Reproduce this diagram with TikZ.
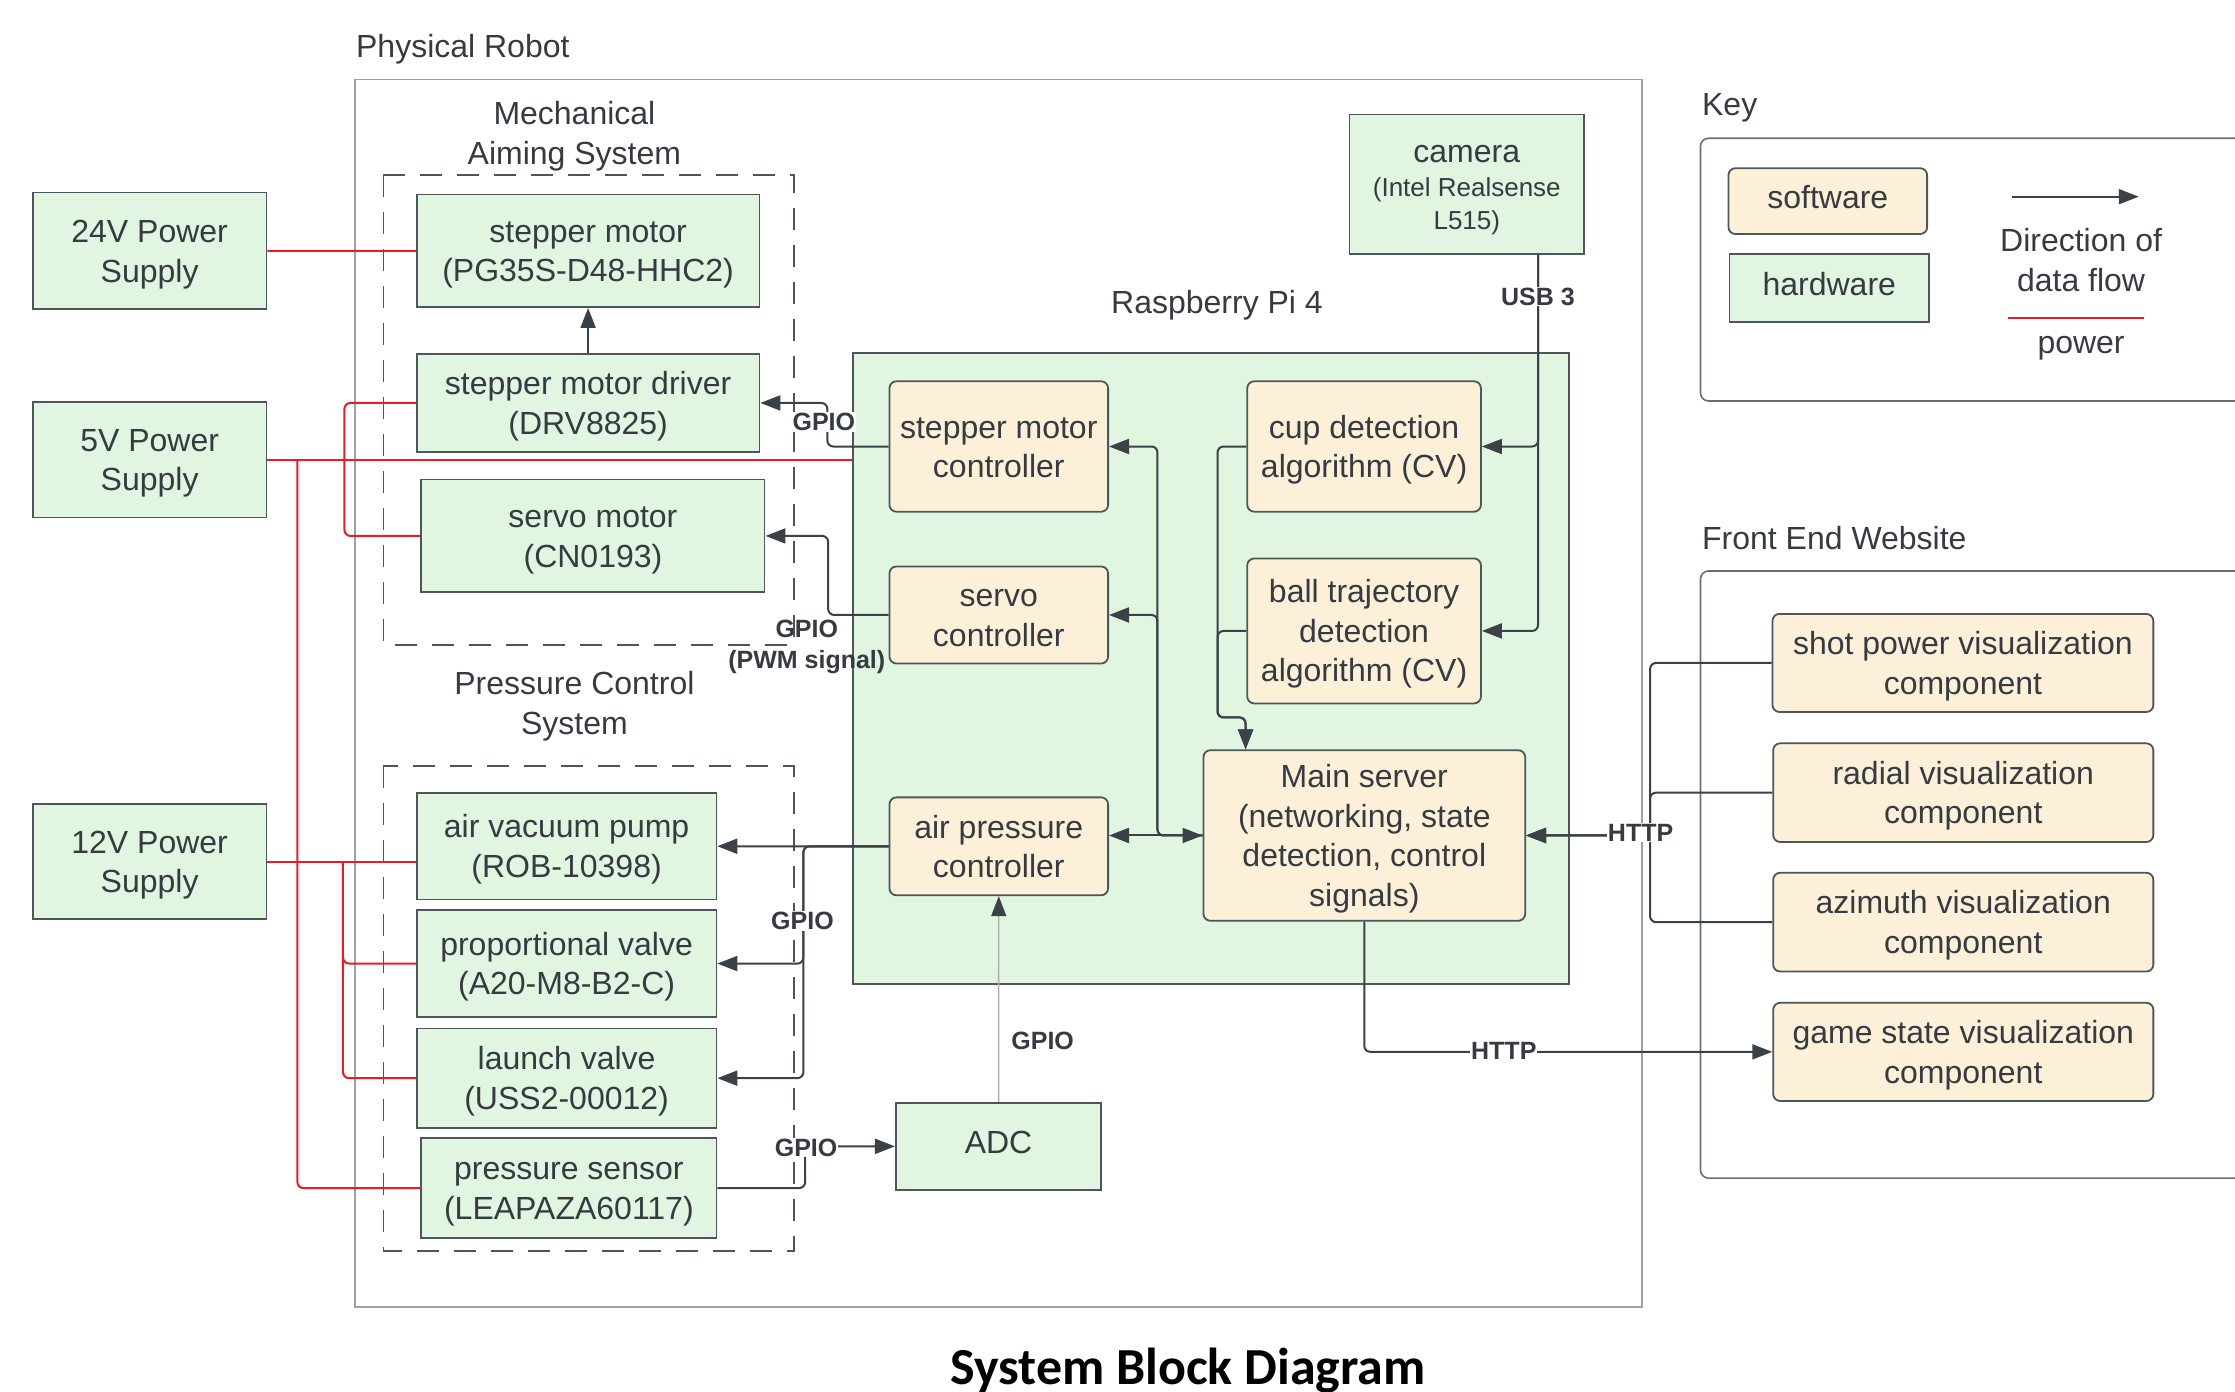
\documentclass[tikz,border=0pt]{standalone}
\usepackage{fontspec}
\setmainfont{Liberation Sans}
\newfontfamily\headingfont{Carlito}
\usetikzlibrary{calc,arrows.meta}
\definecolor{hwfill}{HTML}{E0F6E0}
\definecolor{swfill}{HTML}{FDF0D8}
\definecolor{edge}{HTML}{4E555B}
\definecolor{ink}{HTML}{353B41}
\definecolor{wire}{HTML}{3A4147}
\definecolor{pwrred}{HTML}{EC1C24}
\definecolor{frame}{HTML}{A0A0A0}
% line struts: uniform line boxes inside the blocks
\newcommand\bx{\rule[-8pt]{0pt}{38.9pt}}
\newcommand\bxs{\rule[-6.5pt]{0pt}{31.6pt}}
\newcommand\bxo{\rule[-16pt]{0pt}{46.9pt}}
\begin{document}
\begin{tikzpicture}[x=1.4254pt,y=-1.4254pt,
  every node/.style={text=ink,font=\fontsize{32}{39.5}\selectfont},
  sz/.style 2 args={minimum width=#1*1.4254pt,minimum height=#2*1.4254pt},
  hw/.style={draw=edge,fill=hwfill,line width=1.8pt,inner sep=0pt,align=center},
  sw/.style={hw,fill=swfill,rounded corners=7pt},
  grp/.style={draw=edge,line width=1.8pt,dash pattern=on 22pt off 15pt},
  panel/.style={draw=edge!85,line width=1.6pt,rounded corners=8pt},
  flow/.style={draw=wire,line width=2pt,rounded corners=6pt,-{Triangle[length=20pt,width=15pt]}},
  twoway/.style={flow,{Triangle[length=20pt,width=15pt]}-{Triangle[length=20pt,width=15pt]}},
  pwr/.style={draw=pwrred,line width=2pt,rounded corners=6pt},
  lbl/.style={font=\bfseries\fontsize{25}{31}\selectfont,fill=white,inner sep=1pt},
  heading/.style={inner sep=0pt}
]
\useasboundingbox (0,0) rectangle (1568,976);

% outer frames
\draw[draw=frame,line width=1.3pt] (249,56) rectangle (1152,917);
\draw[grp] (269,123) rectangle (557,452.5);
\draw[grp] (269,537.5) rectangle (557,877.6);
\draw[panel] (1193,97) rectangle (1620,281.3);
\draw[panel] (1193,400.6) rectangle (1620,826.5);

% headings
\node[heading,anchor=base west] (hrobot) at (249.7,40) {Physical Robot};
\node[heading,align=center] (hmech) at (403,95.5) {Mechanical\\Aiming System};
\node[heading,align=center] (hpress) at (403,495.5) {Pressure Control\\System};
\node[heading,anchor=base] (hpi) at (853.8,219.8) {Raspberry Pi 4};
\node[heading,anchor=base west] (hkey) at (1194,80.7) {Key};
\node[heading,anchor=base west] (hweb) at (1194,385.6) {Front End Website};
\node[heading,anchor=base,font=\headingfont\bfseries\fontsize{52}{60}\selectfont,text=black] (htitle) at (833.5,971) {System Block Diagram};

% Raspberry Pi board
\node[hw,sz={502.5}{442.8}] (pi) at (849.45,468.9) {};

% power supplies
\node[hw,sz={164}{82}] (p24) at (105,176) {\bx 24V Power\\\bx Supply};
\node[hw,sz={164}{81}] (p5) at (105,322.5) {\bx 5V Power\\\bx Supply};
\node[hw,sz={164}{81}] (p12) at (105,604.5) {\bx 12V Power\\\bx Supply};

% mechanical aiming system
\node[hw,sz={240.4}{78.9}] (stm) at (412.6,175.95) {\bx stepper motor\\\bx (PG35S-D48-HHC2)};
\node[hw,sz={240.4}{68.6}] (drv) at (412.6,282.7) {\bx stepper motor driver\\\bx (DRV8825)};
\node[hw,sz={240.8}{79.2}] (srv) at (416,376) {\bx servo motor\\\bx (CN0193)};

% pressure control system
\node[hw,sz={210.2}{74.6}] (pump) at (397.5,593.7) {\bx air vacuum pump\\\bx (ROB-10398)};
\node[hw,sz={210.2}{74.6}] (pv) at (397.5,676) {\bx proportional valve\\\bx (A20-M8-B2-C)};
\node[hw,sz={210.2}{69.6}] (lv) at (397.5,756.4) {\bx launch valve\\\bx (USS2-00012)};
\node[hw,sz={207}{70.2}] (ps) at (399.1,833.5) {\bx pressure sensor\\\bx (LEAPAZA60117)};

% camera and ADC
\node[hw,sz={164.5}{97.9}] (cam) at (1029.05,129.25) {\bx camera\\[-6pt]{\fontsize{26}{33}\selectfont\bxs (Intel Realsense}\\[-6pt]{\fontsize{26}{33}\selectfont\bxs L515)}};
\node[hw,sz={144.1}{61.3}] (adc) at (700.55,804.25) {\bxo ADC};

% software on the Pi
\node[sw,sz={153.4}{91.5}] (smc) at (700.7,313.25) {\bx stepper motor\\\bx controller};
\node[sw,sz={164}{91.5}] (cup) at (957,313.25) {\bx cup detection\\\bx algorithm (CV)};
\node[sw,sz={153.4}{68.1}] (svc) at (700.7,431.45) {\bx servo\\\bx controller};
\node[sw,sz={164}{101.7}] (ball) at (957,442.65) {\bx ball trajectory\\\bx detection\\\bx algorithm (CV)};
\node[sw,sz={225.7}{119.7}] (ms) at (957.15,586.15) {\bx Main server\\\bx (networking, state\\\bx detection, control\\\bx signals)};
\node[sw,sz={153.4}{68.7}] (apc) at (700.7,593.75) {\bx air pressure\\\bx controller};

% front end components
\node[sw,sz={267.2}{68.8}] (fe1) at (1377.1,465.1) {\bx shot power visualization\\\bx component};
\node[sw,sz={266.7}{69.2}] (fe2) at (1377.35,556.1) {\bx radial visualization\\\bx component};
\node[sw,sz={266.7}{69.3}] (fe3) at (1377.35,646.95) {\bx azimuth visualization\\\bx component};
\node[sw,sz={266.7}{68.9}] (fe4) at (1377.35,737.95) {\bx game state visualization\\\bx component};

% key
\node[sw,sz={139.4}{46.2}] (ksw) at (1282.3,141.1) {\bxo software};
\node[hw,sz={139.9}{47.5}] (khw) at (1283.35,201.95) {\bxo hardware};
\node[heading,align=center] (kflow) at (1460,182.5) {Direction of\\data flow};
\node[heading] (kpower) at (1460,244.4) {power};
\coordinate (kfa) at (1411.6,138);
\coordinate (kfb) at (1500.5,138);
\coordinate (kpa) at (1409,222.9);
\coordinate (kpb) at (1504,222.9);
\draw[flow] (kfa) -- (kfb);
\draw[pwr,line width=1.6pt] (kpa) -- (kpb);

% power wiring
\draw[pwr] (p24.east) -- (stm.west);
\draw[pwr] (p5.east) -- (p5.east -| pi.west);
\draw[pwr] (drv.west) -| ($(p5.east)+(54,0)$) |- (srv.west);
\draw[pwr] ($(p5.east)+(21,0)$) |- (ps.west);
\draw[pwr] (p12.east) -- (p12.east -| pump.west);
\draw[pwr] ($(p12.east)+(53,0)$) |- (pv.west);
\draw[pwr] ($(p12.east)+(53,0)$) |- (lv.west);

% signals to the aiming hardware
\draw[flow] (drv.north) -- (stm.south);
\draw[flow] (smc.west) -| ($(drv.east)+(47,0)$) -- (drv.east);
\draw[flow] (svc.west) -| ($(srv.east)+(44,0)$) -- (srv.east);

% signals to the pressure hardware
\draw[flow] (apc.west) -- (pump.east);
\draw[flow] (apc.west) -| ($(pv.east)+(60.4,0)$) -- (pv.east);
\draw[flow] (apc.west) -| ($(lv.east)+(60.4,0)$) -- (lv.east);
\draw[flow] (ps.east) -| ($(adc.west)+(-63,0)$) -- (adc.west);
\draw[flow,draw=frame!85,line width=1.4pt,-{Triangle[length=20pt,width=15pt,color=wire]}] (adc.north) -- (apc.south);

% camera feed
\draw[flow] ($(cam.south)+(50,0)$) |- (cup.east);
\draw[flow] ($(cam.south)+(50,0)$) |- (ball.east);

% inside the Pi
\draw[flow] (ms.west) -| ($(smc.east)+(34,0)$) -- (smc.east);
\draw[flow] (ms.west) -| ($(svc.east)+(34,0)$) -- (svc.east);
\draw[twoway] (apc.east |- ms.west) -- (ms.west);
\draw[flow] (cup.west) -- ++(-20.2,0) |- ($(ms.north west)+(30.2,-22.3)$) -- ($(ms.north west)+(30.2,0)$);
\draw[flow] (ball.west) -- ++(-20.2,0) |- ($(ms.north west)+(30.2,-22.3)$) -- ($(ms.north west)+(30.2,0)$);

% web traffic
\draw[flow] (fe1.west) -| ($(ms.east)+(87,0)$) -- (ms.east);
\draw[flow] (fe2.west) -| ($(ms.east)+(87,0)$) -- (ms.east);
\draw[flow] (fe3.west) -| ($(ms.east)+(87,0)$) -- (ms.east);
\draw[flow] (ms.south) |- (fe4.west);

% connector labels
\node[lbl] (gpio1) at (578,296) {GPIO};
\node[lbl,fill=none,align=center] (gpio2) at (566,454) {GPIO\\(PWM signal)};
\node[lbl] (gpio3) at (563,646) {GPIO};
\node[lbl] (gpio4) at (565.5,805) {GPIO};
\node[lbl,fill=none] (gpio5) at (731.5,730) {GPIO};
\node[lbl] (usb) at (1079,208) {USB 3};
\node[lbl] (http1) at (1151,584) {HTTP};
\node[lbl] (http2) at (1055,737) {HTTP};
\end{tikzpicture}
\end{document}
